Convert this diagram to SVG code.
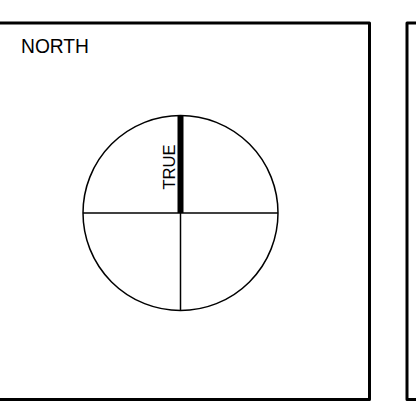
<svg xmlns="http://www.w3.org/2000/svg" width="416" height="416" viewBox="0 0 416 416">
<style>
.frame{fill:none;stroke:#000;stroke-width:3;stroke-linejoin:round}
.thin{stroke:#000;stroke-width:1.5;fill:none}
.lbl{font-family:"Liberation Sans",Arial,sans-serif;font-size:20px;fill:#000}
.lbl-small{font-size:17px}
</style>
<rect width="416" height="416" fill="#fff"/>
<g id="north-panel">
<path class="frame" d="M-5,23 H369.5 V399.5 H-5"/>
<text class="lbl" x="21" y="53" textLength="68" lengthAdjust="spacingAndGlyphs">NORTH</text>
</g>
<g id="right-panel">
<path class="frame" d="M421,23 H407 V399.5 H421"/>
</g>
<g id="compass">
<circle class="thin" cx="180.5" cy="213" r="97.5"/>
<line class="thin" x1="83" y1="213" x2="278" y2="213"/>
<line class="thin" x1="180.5" y1="213" x2="180.5" y2="310.5"/>
<line x1="180.5" y1="115.5" x2="180.5" y2="213" stroke="#000" stroke-width="6"/>
<text class="lbl lbl-small" transform="translate(175,167) rotate(-90)" text-anchor="middle" textLength="45" lengthAdjust="spacingAndGlyphs">TRUE</text>
</g>
</svg>
